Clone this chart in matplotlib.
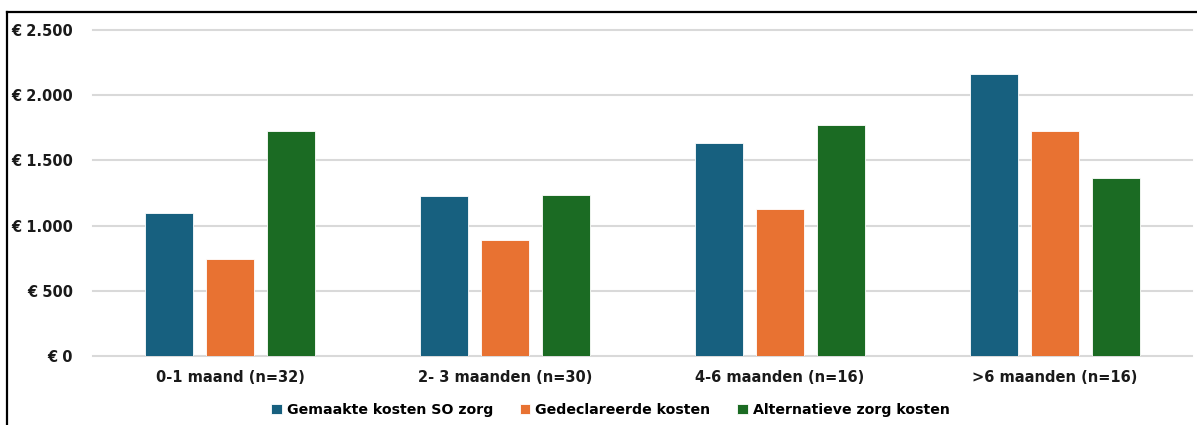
import numpy as np
import matplotlib.pyplot as plt
from matplotlib.lines import Line2D
from matplotlib.ticker import FuncFormatter

# Data
categorieen = ['0-1 maand (n=32)', '2- 3 maanden (n=30)',
               '4-6 maanden (n=16)', '>6 maanden (n=16)']
gemaakte_kosten = [1095, 1225, 1635, 2160]
gedeclareerde_kosten = [742, 890, 1130, 1725]
alternatieve_kosten = [1725, 1232, 1775, 1368]

series = [('Gemaakte kosten SO zorg', gemaakte_kosten, '#17607F'),
          ('Gedeclareerde kosten', gedeclareerde_kosten, '#E87232'),
          ('Alternatieve zorg kosten', alternatieve_kosten, '#1B6B23')]

plt.rcParams['font.family'] = ['DejaVu Sans']

fig = plt.figure(figsize=(11.97, 4.25), dpi=100)
ax = fig.add_axes([0.0773, 0.1624, 0.9189, 0.767])

x = np.arange(len(categorieen))
ancho = 0.175
paso = 0.222
for i, (nombre, valores, color) in enumerate(series):
    ax.bar(x + (i - 1) * paso, valores, width=ancho, color=color,
           edgecolor='white', linewidth=0.6, label=nombre, zorder=3)

ax.set_xlim(-0.5, 3.5)
ax.set_ylim(0, 2500)
ax.set_yticks(np.arange(0, 2501, 500))
ax.yaxis.set_major_formatter(
    FuncFormatter(lambda v, p: '€ ' + f'{int(v):,}'.replace(',', '.')))
ax.set_xticks(x)
ax.set_xticklabels(categorieen)
ax.grid(axis='y', color='#D9D9D9', linewidth=1.5, zorder=0)
for g in ax.get_ygridlines():
    g.set_clip_on(False)
for s in ax.spines.values():
    s.set_visible(False)
ax.tick_params(length=0, labelsize=10.5, colors='#1a1a1a')
ax.tick_params(axis='y', pad=14)
ax.tick_params(axis='x', pad=10)
for lab in ax.get_yticklabels() + ax.get_xticklabels():
    lab.set_fontweight('bold')

leg = fig.legend(loc='center', bbox_to_anchor=(0.51, 0.035), ncol=3,
                 frameon=False, handlelength=0.75, handleheight=0.75,
                 handletextpad=0.35, columnspacing=1.9,
                 prop={'size': 10.2, 'weight': 'bold'})

# Rand
fig.add_artist(Line2D([7 / 1197, 7 / 1197], [0, 1 - 12 / 425],
                      transform=fig.transFigure, color='black', lw=1.6))
fig.add_artist(Line2D([7 / 1197, 1], [1 - 12 / 425, 1 - 12 / 425],
                      transform=fig.transFigure, color='black', lw=1.6))

fig.savefig('out.png', dpi=100)
